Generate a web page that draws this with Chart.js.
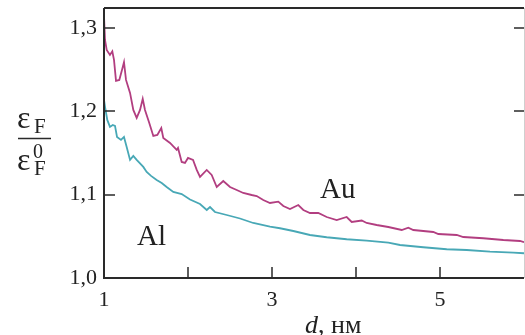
<!DOCTYPE html>
<html>
<head>
<meta charset="utf-8">
<script src="https://cdn.jsdelivr.net/npm/chart.js@4/dist/chart.umd.min.js"></script>
<style>
  html, body { margin: 0; padding: 0; background: #fff; }
  canvas { display: block; }
</style>
</head>
<body>
<canvas id="grafico" width="525" height="335"></canvas>
<script>
// dados (d em nm, eF/eF0)
const auD = [1.000, 1.012, 1.032, 1.071, 1.099, 1.119, 1.143, 1.182, 1.214, 1.238, 1.262, 1.310,
  1.349, 1.389, 1.429, 1.461, 1.488, 1.539, 1.587, 1.635, 1.682, 1.706, 1.786, 1.865, 1.881,
  1.925, 1.964, 2.000, 2.060, 2.104, 2.143, 2.223, 2.282, 2.342, 2.420, 2.500, 2.580, 2.658,
  2.758, 2.818, 2.896, 2.976, 3.075, 3.135, 3.214, 3.313, 3.373, 3.452, 3.551, 3.651, 3.770,
  3.889, 3.949, 4.068, 4.127, 4.246, 4.385, 4.544, 4.623, 4.682, 4.920, 4.980, 5.199, 5.277,
  5.515, 5.754, 5.952, 6.000];
const auV = [1.3145, 1.2857, 1.2737, 1.2677, 1.2720, 1.2617, 1.2365, 1.2377, 1.2497, 1.2590, 1.2377, 1.2221,
  1.2017, 1.1921, 1.2017, 1.2150, 1.2017, 1.1861, 1.1705, 1.1717, 1.1800, 1.1681, 1.1621, 1.1537, 1.1561,
  1.1393, 1.1381, 1.1441, 1.1417, 1.1297, 1.1213, 1.1297, 1.1237, 1.1092, 1.1164, 1.1092, 1.1056, 1.1020,
  1.0996, 1.0984, 1.0936, 1.0900, 1.0916, 1.0864, 1.0828, 1.0876, 1.0816, 1.0780, 1.0780, 1.0732, 1.0696,
  1.0732, 1.0672, 1.0690, 1.0660, 1.0636, 1.0612, 1.0576, 1.0604, 1.0576, 1.0552, 1.0528, 1.0516, 1.0492,
  1.0477, 1.0456, 1.0444, 1.0430];

const alD = [1.000, 1.012, 1.039, 1.071, 1.104, 1.131, 1.155, 1.202, 1.238, 1.270, 1.310, 1.349,
  1.389, 1.468, 1.508, 1.560, 1.627, 1.687, 1.746, 1.825, 1.925, 2.024, 2.143, 2.223, 2.262,
  2.321, 2.461, 2.619, 2.777, 2.976, 3.095, 3.254, 3.452, 3.651, 3.889, 4.127, 4.385, 4.524,
  4.801, 5.080, 5.318, 5.595, 5.873, 6.000];
const alV = [1.2137, 1.2056, 1.1897, 1.1813, 1.1837, 1.1825, 1.1693, 1.1657, 1.1693, 1.1573, 1.1417, 1.1465,
  1.1417, 1.1333, 1.1273, 1.1225, 1.1177, 1.1140, 1.1092, 1.1032, 1.1008, 1.0942, 1.0888, 1.0816, 1.0852,
  1.0792, 1.0756, 1.0714, 1.0660, 1.0616, 1.0597, 1.0564, 1.0516, 1.0489, 1.0465, 1.0448, 1.0424, 1.0396,
  1.0369, 1.0345, 1.0336, 1.0316, 1.0304, 1.0297];

const xTicks = [1, 2, 3, 4, 5, 6];
const xRotulos = [1, 3, 5];
const yTicks = [1.0, 1.1, 1.2, 1.3];

const corAu = 'rgb(178, 62, 128)';
const corAl = 'rgb(72, 168, 182)';
const corEixo = '#2a2a2a';
const serif = '"Times New Roman", "Liberation Serif", Times, serif';

function pontos(xs, ys) {
  return xs.map((x, i) => ({ x: x, y: ys[i] }));
}

// eixos, ticks para dentro e textos
const decoracao = {
  id: 'decoracao',
  afterDraw(chart) {
    const c = chart.ctx;
    const a = chart.chartArea;
    const sx = chart.scales.x, sy = chart.scales.y;
    c.save();
    c.strokeStyle = corEixo;
    c.lineWidth = 2;
    c.beginPath();
    c.moveTo(a.left, a.top); c.lineTo(a.right, a.top);
    c.moveTo(a.left, a.top); c.lineTo(a.left, a.bottom);
    c.moveTo(a.left - 1, a.bottom); c.lineTo(a.right, a.bottom);
    c.stroke();
    c.strokeStyle = '#cfcfcf';
    c.lineWidth = 1;
    c.beginPath();
    c.moveTo(a.right + 0.5, a.top); c.lineTo(a.right + 0.5, a.bottom);
    c.stroke();

    c.strokeStyle = corEixo;
    c.lineWidth = 1.5;
    c.beginPath();
    yTicks.slice(1).forEach(v => {
      const y = Math.round(sy.getPixelForValue(v));
      c.moveTo(a.left, y); c.lineTo(a.left + 11, y);
      c.moveTo(a.right, y); c.lineTo(a.right - 10, y);
    });
    xTicks.slice(1, -1).forEach(v => {
      const x = Math.round(sx.getPixelForValue(v));
      c.moveTo(x, a.bottom); c.lineTo(x, a.bottom - 11);
    });
    c.stroke();

    c.fillStyle = '#222';
    c.textBaseline = 'alphabetic';
    c.textAlign = 'left';
    c.font = '29px ' + serif;
    c.fillText('Au', 320, 198);
    c.fillText('Al', 137, 245);

    // titulo x: d, нм
    c.font = 'italic 26px ' + serif;
    c.fillText('d', 305, 333);
    const wd = c.measureText('d').width;
    c.font = '26px ' + serif;
    c.fillText(', нм', 305 + wd, 333);

    // titulo y: fracao eF / eF0
    c.font = '32px ' + serif;
    c.fillText('ε', 17, 128);
    c.fillText('ε', 17, 170);
    c.font = '21px ' + serif;
    c.fillText('F', 34, 133);
    c.fillText('F', 34, 175);
    c.font = '20px ' + serif;
    c.fillText('0', 33, 158);
    c.lineWidth = 1.5;
    c.beginPath();
    c.moveTo(18, 138.5); c.lineTo(51, 138.5);
    c.stroke();
    c.restore();
  }
};

const grafico = new Chart(document.getElementById('grafico'), {
  type: 'scatter',
  data: {
    datasets: [
      { label: 'Au', data: pontos(auD, auV), showLine: true, borderColor: corAu,
        borderWidth: 1.8, pointRadius: 0, tension: 0 },
      { label: 'Al', data: pontos(alD, alV), showLine: true, borderColor: corAl,
        borderWidth: 1.8, pointRadius: 0, tension: 0 }
    ]
  },
  options: {
    responsive: false,
    animation: false,
    devicePixelRatio: 1,
    layout: { padding: { top: 8, right: 1, left: 0, bottom: 0 } },
    plugins: { legend: { display: false }, tooltip: { enabled: false } },
    scales: {
      x: {
        type: 'linear', min: 1, max: 6,
        grid: { display: false, drawTicks: false },
        border: { display: false },
        afterBuildTicks: s => { s.ticks = xTicks.map(v => ({ value: v })); },
        afterFit: s => { s.height = 57; s.paddingLeft = 0; s.paddingRight = 0; },
        ticks: {
          autoSkip: false, maxRotation: 0, padding: 9, color: '#222',
          font: { family: serif, size: 22 },
          callback: v => xRotulos.includes(v) ? String(v) : ''
        }
      },
      y: {
        type: 'linear', min: 1.0, max: 1.324,
        grid: { display: false, drawTicks: false },
        border: { display: false },
        afterBuildTicks: s => { s.ticks = yTicks.map(v => ({ value: v })); },
        afterFit: s => { s.width = 104; s.paddingTop = 0; s.paddingBottom = 0; },
        ticks: {
          padding: 7, color: '#222',
          font: { family: serif, size: 22 },
          callback: v => v.toFixed(1).replace('.', ',')
        }
      }
    }
  },
  plugins: [decoracao]
});
</script>
</body>
</html>
